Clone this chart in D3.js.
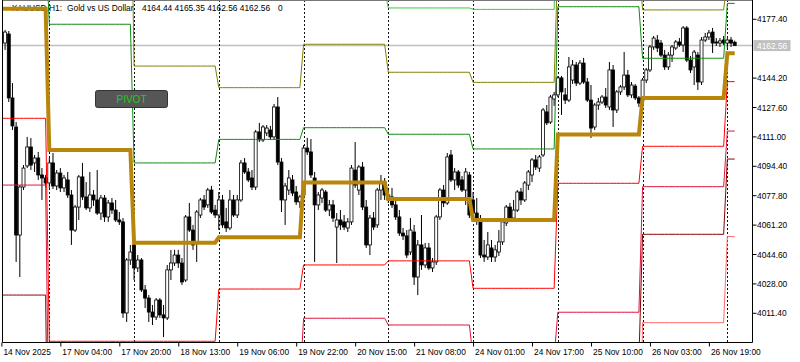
<!DOCTYPE html>
<html>
<head>
<meta charset="utf-8">
<script src="https://cdn.jsdelivr.net/npm/d3@7"></script>
<style>
  body { margin: 0; background: #fff; }
  svg { display: block; font-family: "Liberation Sans", Arial, sans-serif; }
</style>
</head>
<body>
<svg id="chart" width="800" height="362"></svg>
<script>
/* global d3 */

// trading days shown on the chart (H1 bars, 01:00 - 23:00)
const dayNames = ['14 Nov', '17 Nov', '18 Nov', '19 Nov', '20 Nov', '21 Nov', '24 Nov', '25 Nov', '26 Nov', '27 Nov'];
const dayBars = [13, 23, 23, 23, 23, 23, 23, 23, 23, 3];
const dayFirstHour = [11, 1, 1, 1, 1, 1, 1, 1, 1, 1];

// XAUUSD H1 candles
const opens = [
  4168.5, 4164.0, 4169.1, 4133.0, 4116.6, 4055.6, 4082.7, 4094.6, 4105.3, 4096.3, 4099.1, 4089.5, 4087.8,
  4085.0, 4096.3, 4083.3, 4090.6, 4082.2, 4086.7, 4078.2, 4058.4, 4071.4, 4088.4, 4077.1, 4070.9, 4078.2, 4075.4, 4068.0, 4076.5, 4065.8, 4073.7, 4069.7, 4064.1, 4063.0, 4011.6, 4041.5,
  4050.0, 4037.0, 4041.5, 4024.6, 4020.0, 4012.1, 4009.3, 4018.9, 4010.5, 4008.8, 4035.9, 4039.8, 4044.3, 4039.8, 4030.2, 4065.8, 4058.4, 4051.1, 4066.9, 4075.4, 4072.6, 4081.0, 4069.7,
  4066.9, 4075.4, 4063.0, 4059.6, 4075.4, 4066.9, 4075.4, 4096.3, 4091.2, 4087.8, 4082.7, 4113.8, 4109.3, 4113.2, 4114.9, 4111.0, 4127.9, 4096.8, 4075.4, 4081.0, 4086.7, 4079.9, 4074.3,
  4078.2, 4104.7, 4102.5, 4087.8, 4072.6, 4076.5, 4079.9, 4069.7, 4072.6, 4060.1, 4064.1, 4063.0, 4059.6, 4063.0, 4092.3, 4081.0, 4094.0, 4071.4, 4050.0, 4065.2, 4061.3, 4081.0, 4085.5,
  4078.2, 4077.1, 4072.6, 4065.8, 4056.7, 4055.1, 4046.0, 4057.3, 4031.9, 4050.0, 4038.7, 4048.3, 4037.0, 4040.4, 4065.8, 4081.0, 4073.7, 4100.8, 4086.7, 4091.2, 4086.7, 4081.0, 4089.5,
  4075.4, 4068.0, 4064.1, 4044.3, 4043.2, 4048.3, 4043.2, 4046.0, 4051.7, 4062.4, 4071.4, 4065.2, 4069.7, 4079.9, 4075.4, 4083.8, 4089.5, 4098.0, 4093.4, 4100.8, 4125.1, 4119.4, 4132.4,
  4134.7, 4144.3, 4134.7, 4131.8, 4143.1, 4151.6, 4141.4, 4152.7, 4142.0, 4131.8, 4116.6, 4129.0, 4130.7, 4133.5, 4127.9, 4148.8, 4126.2, 4136.4, 4139.2, 4145.9, 4134.7, 4139.7, 4133.0,
  4131.8, 4143.1, 4148.8, 4161.8, 4165.7, 4164.0, 4157.2, 4150.5, 4157.2, 4161.2, 4164.6, 4162.9, 4172.5, 4154.4, 4150.5, 4157.2, 4142.0, 4165.7, 4167.4, 4170.2, 4164.6, 4164.0, 4165.7,
  4164.0, 4165.7, 4164.44
];
const highs = [
  4177.0, 4171.4, 4170.8, 4141.4, 4119.4, 4083.8, 4095.1, 4111.0, 4110.4, 4100.8, 4102.5, 4093.4, 4089.5,
  4099.1, 4101.9, 4092.3, 4093.4, 4089.5, 4091.2, 4081.0, 4072.6, 4089.5, 4096.3, 4085.5, 4091.2, 4081.0, 4092.3, 4078.2, 4078.2, 4075.4, 4076.5, 4075.4, 4068.6, 4065.2, 4042.6, 4050.0,
  4052.8, 4044.3, 4042.6, 4027.4, 4021.7, 4016.1, 4020.0, 4020.0, 4016.1, 4038.7, 4047.2, 4047.2, 4047.2, 4042.6, 4066.9, 4073.7, 4061.3, 4069.7, 4076.5, 4078.2, 4082.2, 4083.3, 4072.6,
  4079.9, 4078.2, 4070.9, 4081.0, 4078.2, 4078.2, 4098.0, 4099.1, 4093.4, 4092.3, 4114.9, 4118.9, 4117.7, 4117.7, 4117.2, 4129.6, 4133.5, 4099.1, 4085.0, 4092.3, 4089.5, 4083.3, 4078.2,
  4106.4, 4110.4, 4109.8, 4091.2, 4079.9, 4082.2, 4081.0, 4075.4, 4075.4, 4068.0, 4069.7, 4066.9, 4065.2, 4095.1, 4108.1, 4095.1, 4096.8, 4075.4, 4066.9, 4068.6, 4082.2, 4089.5, 4087.8,
  4082.2, 4082.2, 4075.4, 4069.7, 4059.6, 4058.4, 4065.2, 4061.3, 4052.8, 4066.9, 4051.1, 4051.1, 4042.6, 4066.9, 4082.2, 4083.8, 4101.9, 4103.6, 4093.4, 4092.3, 4088.9, 4093.4, 4091.2,
  4079.9, 4076.5, 4066.9, 4052.8, 4057.3, 4052.8, 4050.0, 4058.4, 4064.1, 4072.6, 4073.7, 4075.4, 4081.0, 4082.2, 4086.1, 4092.3, 4099.1, 4100.8, 4100.8, 4127.3, 4129.0, 4134.7, 4136.4,
  4145.4, 4145.4, 4138.6, 4156.1, 4154.4, 4153.3, 4154.4, 4155.6, 4144.3, 4140.3, 4130.1, 4133.0, 4134.7, 4138.6, 4153.3, 4151.6, 4137.5, 4140.3, 4158.9, 4148.8, 4142.0, 4140.9, 4134.1,
  4144.3, 4149.9, 4162.9, 4168.0, 4168.5, 4165.7, 4160.1, 4158.9, 4162.9, 4165.7, 4166.8, 4173.6, 4173.6, 4156.7, 4160.1, 4158.9, 4167.4, 4169.7, 4171.4, 4172.5, 4166.8, 4166.8, 4168.0,
  4166.8, 4167.4, 4165.35
];
const lows = [
  4162.9, 4160.1, 4130.7, 4114.9, 4040.4, 4031.9, 4081.0, 4093.4, 4092.3, 4091.2, 4086.7, 4075.4, 4082.2,
  4082.2, 4081.6, 4081.0, 4079.9, 4079.9, 4076.5, 4050.0, 4057.3, 4064.1, 4075.4, 4069.7, 4068.6, 4072.0, 4066.9, 4064.1, 4063.0, 4063.0, 4067.5, 4063.0, 4061.3, 4008.8, 4006.5, 4038.7,
  4030.2, 4034.7, 4023.4, 4014.4, 4006.5, 4004.8, 4007.6, 4008.8, 3998.0, 4007.6, 4030.2, 4038.1, 4037.0, 4027.4, 4029.1, 4057.3, 4047.2, 4040.4, 4065.2, 4069.7, 4070.9, 4067.5, 4065.2,
  4058.4, 4059.6, 4057.3, 4058.4, 4065.8, 4065.2, 4074.3, 4090.1, 4085.5, 4081.0, 4081.0, 4108.1, 4108.1, 4111.5, 4109.3, 4109.3, 4095.1, 4068.6, 4061.3, 4078.2, 4077.6, 4072.6, 4070.9,
  4077.1, 4100.8, 4087.8, 4040.4, 4069.7, 4073.7, 4068.6, 4066.3, 4063.0, 4039.8, 4058.4, 4058.4, 4057.3, 4061.3, 4082.2, 4078.2, 4069.7, 4048.3, 4044.3, 4058.4, 4059.6, 4075.4, 4075.4,
  4073.7, 4070.9, 4064.1, 4055.1, 4052.8, 4042.6, 4044.3, 4027.4, 4021.7, 4035.9, 4037.0, 4035.9, 4034.7, 4038.7, 4064.1, 4071.4, 4072.6, 4085.5, 4081.0, 4082.2, 4079.9, 4072.6, 4065.2,
  4066.9, 4061.3, 4042.6, 4040.4, 4041.5, 4040.4, 4040.4, 4043.8, 4050.0, 4060.7, 4064.1, 4063.0, 4068.6, 4072.6, 4074.3, 4081.0, 4085.5, 4092.3, 4091.2, 4099.7, 4117.7, 4118.3, 4128.5,
  4133.5, 4123.4, 4129.6, 4130.7, 4140.9, 4139.7, 4140.3, 4140.9, 4130.7, 4110.4, 4114.9, 4126.2, 4129.6, 4127.3, 4126.2, 4116.6, 4124.5, 4134.7, 4137.5, 4133.5, 4133.0, 4131.8, 4127.9,
  4130.1, 4141.4, 4147.6, 4160.1, 4158.9, 4156.1, 4148.8, 4148.8, 4153.3, 4160.1, 4161.8, 4158.9, 4153.3, 4147.1, 4140.3, 4137.5, 4140.3, 4164.6, 4165.7, 4158.4, 4162.3, 4161.8, 4162.9,
  4161.2, 4161.8, 4162.56
];
const closes = [
  4166.8, 4170.2, 4133.0, 4117.2, 4055.6, 4082.7, 4093.4, 4105.3, 4095.1, 4099.1, 4089.5, 4087.8, 4085.0,
  4096.3, 4083.3, 4090.6, 4082.2, 4087.8, 4078.2, 4058.4, 4071.4, 4088.4, 4077.1, 4070.9, 4078.2, 4075.4, 4068.0, 4076.5, 4065.8, 4073.7, 4069.7, 4064.1, 4063.0, 4011.6, 4041.5, 4046.0,
  4037.0, 4041.5, 4024.6, 4020.0, 4012.1, 4009.3, 4018.9, 4010.5, 4008.8, 4035.9, 4039.8, 4044.3, 4039.8, 4029.1, 4065.8, 4058.4, 4050.0, 4068.6, 4075.4, 4071.4, 4081.0, 4068.6, 4066.9,
  4075.4, 4061.3, 4059.6, 4075.4, 4066.9, 4075.4, 4096.3, 4091.2, 4086.7, 4082.7, 4113.8, 4109.3, 4116.6, 4116.0, 4111.0, 4127.9, 4096.8, 4075.4, 4083.3, 4087.8, 4079.3, 4074.3, 4077.1,
  4104.7, 4102.5, 4089.5, 4072.6, 4078.2, 4081.0, 4069.7, 4072.6, 4065.2, 4064.1, 4061.3, 4060.1, 4063.0, 4093.4, 4083.8, 4094.0, 4071.4, 4050.0, 4065.2, 4060.1, 4081.0, 4085.5, 4078.2,
  4075.4, 4072.6, 4065.8, 4056.7, 4055.1, 4044.3, 4058.4, 4031.9, 4050.0, 4038.7, 4048.3, 4037.0, 4040.4, 4065.8, 4081.0, 4073.7, 4099.7, 4086.7, 4091.2, 4083.8, 4081.0, 4091.2, 4066.9,
  4068.0, 4064.1, 4044.3, 4043.2, 4050.0, 4043.2, 4047.2, 4051.7, 4063.0, 4071.4, 4065.2, 4069.7, 4079.9, 4075.4, 4085.0, 4091.2, 4098.0, 4094.0, 4099.7, 4126.2, 4118.9, 4133.5, 4134.7,
  4144.3, 4136.4, 4131.8, 4150.5, 4151.6, 4141.4, 4152.7, 4142.0, 4131.8, 4116.0, 4129.0, 4130.7, 4133.5, 4129.0, 4148.8, 4126.2, 4136.4, 4139.2, 4145.9, 4134.7, 4140.3, 4133.0, 4130.1,
  4143.1, 4148.8, 4161.8, 4166.8, 4161.2, 4157.2, 4150.5, 4157.2, 4161.8, 4164.6, 4162.9, 4172.5, 4154.4, 4148.8, 4158.9, 4142.0, 4165.7, 4167.4, 4169.7, 4164.0, 4164.0, 4165.2, 4164.0,
  4165.7, 4164.0, 4162.56
];

// daily pivot levels, one value per day (several lie outside the visible range)
const levelR3 = [4321.5, 4355.0, 4196.0, 4194.0, 4193.7, 4183.8, 4183.0, 4283.7, 4205.2, 4230.0];
const levelR2 = [4283.7, 4282.6, 4151.0, 4138.8, 4163.3, 4147.5, 4141.8, 4211.9, 4182.7, 4200.0];
const levelR1 = [4221.6, 4174.6, 4096.3, 4109.6, 4116.2, 4112.5, 4104.2, 4184.5, 4155.4, 4186.4];
const levelP  = [4183.4, 4103.6, 4051.3, 4054.3, 4085.3, 4075.9, 4064.1, 4112.4, 4133.0, 4158.2];
const levelS1 = [4121.5, 3995.6, 3995.6, 4025.1, 4038.7, 4041.0, 4025.5, 4084.8, 4105.7, 4142.2];
const levelS2 = [4083.8, 3924.6, 3951.5, 3969.8, 4008.6, 4004.8, 3986.3, 4012.0, 4082.9, 4114.3];
const levelS3 = [4021.7, 3853.0, 3900.0, 3940.7, 3961.2, 3969.4, 3948.7, 3985.3, 4056.0, 4098.5];
const levelS4 = [3950.0, 3780.0, 3850.0, 3890.0, 3920.0, 3930.0, 3900.0, 3900.0, 4006.1, 4054.7];

// axis ticks
const priceTicks = [4177.40, 4144.20, 4127.60, 4111.00, 4094.40, 4077.80, 4061.20, 4044.60, 4028.00, 4011.40];
const timeTicks = ['14 Nov 11:00', '17 Nov 04:00', '17 Nov 20:00', '18 Nov 13:00', '19 Nov 06:00', '19 Nov 22:00',
  '20 Nov 15:00', '21 Nov 08:00', '24 Nov 01:00', '24 Nov 17:00', '25 Nov 10:00', '26 Nov 03:00', '26 Nov 19:00'];
const timeTickLabels = ['14 Nov 2025', '17 Nov 04:00', '17 Nov 20:00', '18 Nov 13:00', '19 Nov 06:00', '19 Nov 22:00',
  '20 Nov 15:00', '21 Nov 08:00', '24 Nov 01:00', '24 Nov 17:00', '25 Nov 10:00', '26 Nov 03:00', '26 Nov 19:00'];

const symbolTitle = 'XAUUSD,H1:';
const symbolName = 'Gold vs US Dollar';

// build bar records
var bars = [];
dayNames.forEach((name, d) => {
  for (var k = 0; k < dayBars[d]; k++) {
    var i = bars.length;
    bars.push({
      i: i, day: d, first: k === 0,
      time: name + ' ' + String(dayFirstHour[d] + k).padStart(2, '0') + ':00',
      o: opens[i], h: highs[i], l: lows[i], c: closes[i]
    });
  }
});
var last = bars[bars.length - 1];

var svg = d3.select('#chart');
var plotRight = 752.5, plotBottom = 342.5, plotLeft = 2.5;

var x = d3.scaleLinear().domain([0, bars.length - 1]).range([1.4, 734.7]);
var y = d3.scaleLinear().domain([4011.4, 4177.4]).range([313.3, 19.3]);
var fmt = d3.format('.2f');

svg.append('defs').append('clipPath').attr('id', 'plot')
  .append('rect').attr('x', plotLeft).attr('y', 0)
  .attr('width', plotRight - plotLeft).attr('height', plotBottom);

// header
var header = svg.append('g').attr('font-size', 8.4).attr('fill', '#000');
header.append('text').attr('x', 62).attr('y', 11).attr('text-anchor', 'end').text(symbolTitle);
header.append('text').attr('x', 67).attr('y', 11).text(symbolName);
header.append('text').attr('x', 142).attr('y', 11).text([last.o, last.h, last.l, last.c].map(fmt).join(' '));
header.append('text').attr('x', 278).attr('y', 11).text('0');

var plot = svg.append('g').attr('clip-path', 'url(#plot)');

// bid line
plot.append('line')
  .attr('x1', plotLeft).attr('x2', plotRight)
  .attr('y1', y(last.c)).attr('y2', y(last.c))
  .attr('stroke', '#c0c0c0').attr('stroke-width', 1.5);

// day separators
plot.selectAll('line.sep')
  .data(bars.filter(d => d.first && d.day > 0)).enter()
  .append('line').attr('class', 'sep')
  .attr('x1', d => Math.round(x(d.i)) + 0.5).attr('x2', d => Math.round(x(d.i)) + 0.5)
  .attr('y1', 0).attr('y2', plotBottom)
  .attr('stroke', '#111').attr('stroke-width', 1)
  .attr('stroke-dasharray', '2,2');

// candles
var bw = 3;
plot.selectAll('line.wick')
  .data(bars).enter()
  .append('line').attr('class', 'wick')
  .attr('x1', d => x(d.i)).attr('x2', d => x(d.i))
  .attr('y1', d => y(d.h)).attr('y2', d => y(d.l))
  .attr('stroke', '#000').attr('stroke-width', 1);
plot.selectAll('rect.body')
  .data(bars).enter()
  .append('rect').attr('class', 'body')
  .attr('x', d => x(d.i) - bw / 2).attr('width', bw)
  .attr('y', d => y(Math.max(d.o, d.c)))
  .attr('height', d => Math.max(0.8, Math.abs(y(d.o) - y(d.c))))
  .attr('fill', d => d.c > d.o ? '#fff' : '#000')
  .attr('stroke', '#000').attr('stroke-width', 0.8);

// pivot levels
var levels = [
  { vals: levelR3, color: '#3cc83c', width: 1 },
  { vals: levelR2, color: '#808000', width: 1 },
  { vals: levelR1, color: '#108a10', width: 1 },
  { vals: levelS4, color: '#ff6a6a', width: 1 },
  { vals: levelS3, color: '#8b0000', width: 1 },
  { vals: levelS2, color: '#dc143c', width: 1 },
  { vals: levelS1, color: '#ff0000', width: 1 },
  { vals: levelP, color: '#b8860b', width: 4 }
];
var line = d3.line().x(d => x(d.i)).y(d => y(d.v));
plot.selectAll('path.level')
  .data(levels).enter()
  .append('path').attr('class', 'level')
  .attr('d', lv => line(bars.map(b => ({ i: b.i, v: lv.vals[b.day] }))))
  .attr('fill', 'none')
  .attr('stroke', lv => lv.color)
  .attr('stroke-width', lv => lv.width);

// PIVOT button
var btn = svg.append('g');
btn.append('rect').attr('x', 95.5).attr('y', 90.5).attr('width', 72).attr('height', 17)
  .attr('rx', 2).attr('fill', '#565656').attr('stroke', '#333').attr('stroke-width', 1);
btn.append('text').attr('x', 131.5).attr('y', 103).attr('text-anchor', 'middle')
  .attr('font-size', 10).attr('fill', '#22cc22').text('PIVOT');

// frame and axes
var axes = svg.append('g').attr('stroke', '#000').attr('stroke-width', 1);
axes.append('line').attr('x1', plotLeft).attr('x2', plotRight).attr('y1', 0.5).attr('y2', 0.5).attr('stroke', '#777');
axes.append('line').attr('x1', plotLeft).attr('x2', plotLeft).attr('y1', 0).attr('y2', plotBottom);
axes.append('line').attr('x1', plotRight).attr('x2', plotRight).attr('y1', 0).attr('y2', plotBottom);
axes.append('line').attr('x1', plotLeft).attr('x2', plotRight).attr('y1', plotBottom).attr('y2', plotBottom);

// price axis
var pa = svg.append('g').attr('font-size', 8.4);
pa.selectAll('line').data(priceTicks).enter().append('line')
  .attr('x1', plotRight).attr('x2', plotRight + 4)
  .attr('y1', d => y(d)).attr('y2', d => y(d))
  .attr('stroke', '#000');
pa.selectAll('text').data(priceTicks).enter().append('text')
  .attr('x', plotRight + 4.5).attr('y', d => y(d) + 3)
  .text(d => fmt(d));

// current price label
pa.append('rect').attr('x', plotRight + 1).attr('y', y(last.c) - 5.5)
  .attr('width', 37).attr('height', 11).attr('fill', '#c0c0c0');
pa.append('text').attr('x', plotRight + 4.5).attr('y', y(last.c) + 3)
  .attr('fill', '#fff').text(fmt(last.c));

// time axis
var tickBars = timeTicks.map(t => bars.find(b => b.time === t));
var ta = svg.append('g').attr('font-size', 8.4);
ta.selectAll('line').data(tickBars).enter().append('line')
  .attr('x1', d => x(d.i) + 0.5).attr('x2', d => x(d.i) + 0.5)
  .attr('y1', plotBottom).attr('y2', plotBottom + 4)
  .attr('stroke', '#000');
ta.selectAll('text').data(tickBars).enter().append('text')
  .attr('x', d => x(d.i) + 2).attr('y', 354.5)
  .text((d, k) => timeTickLabels[k]);
</script>
</body>
</html>
